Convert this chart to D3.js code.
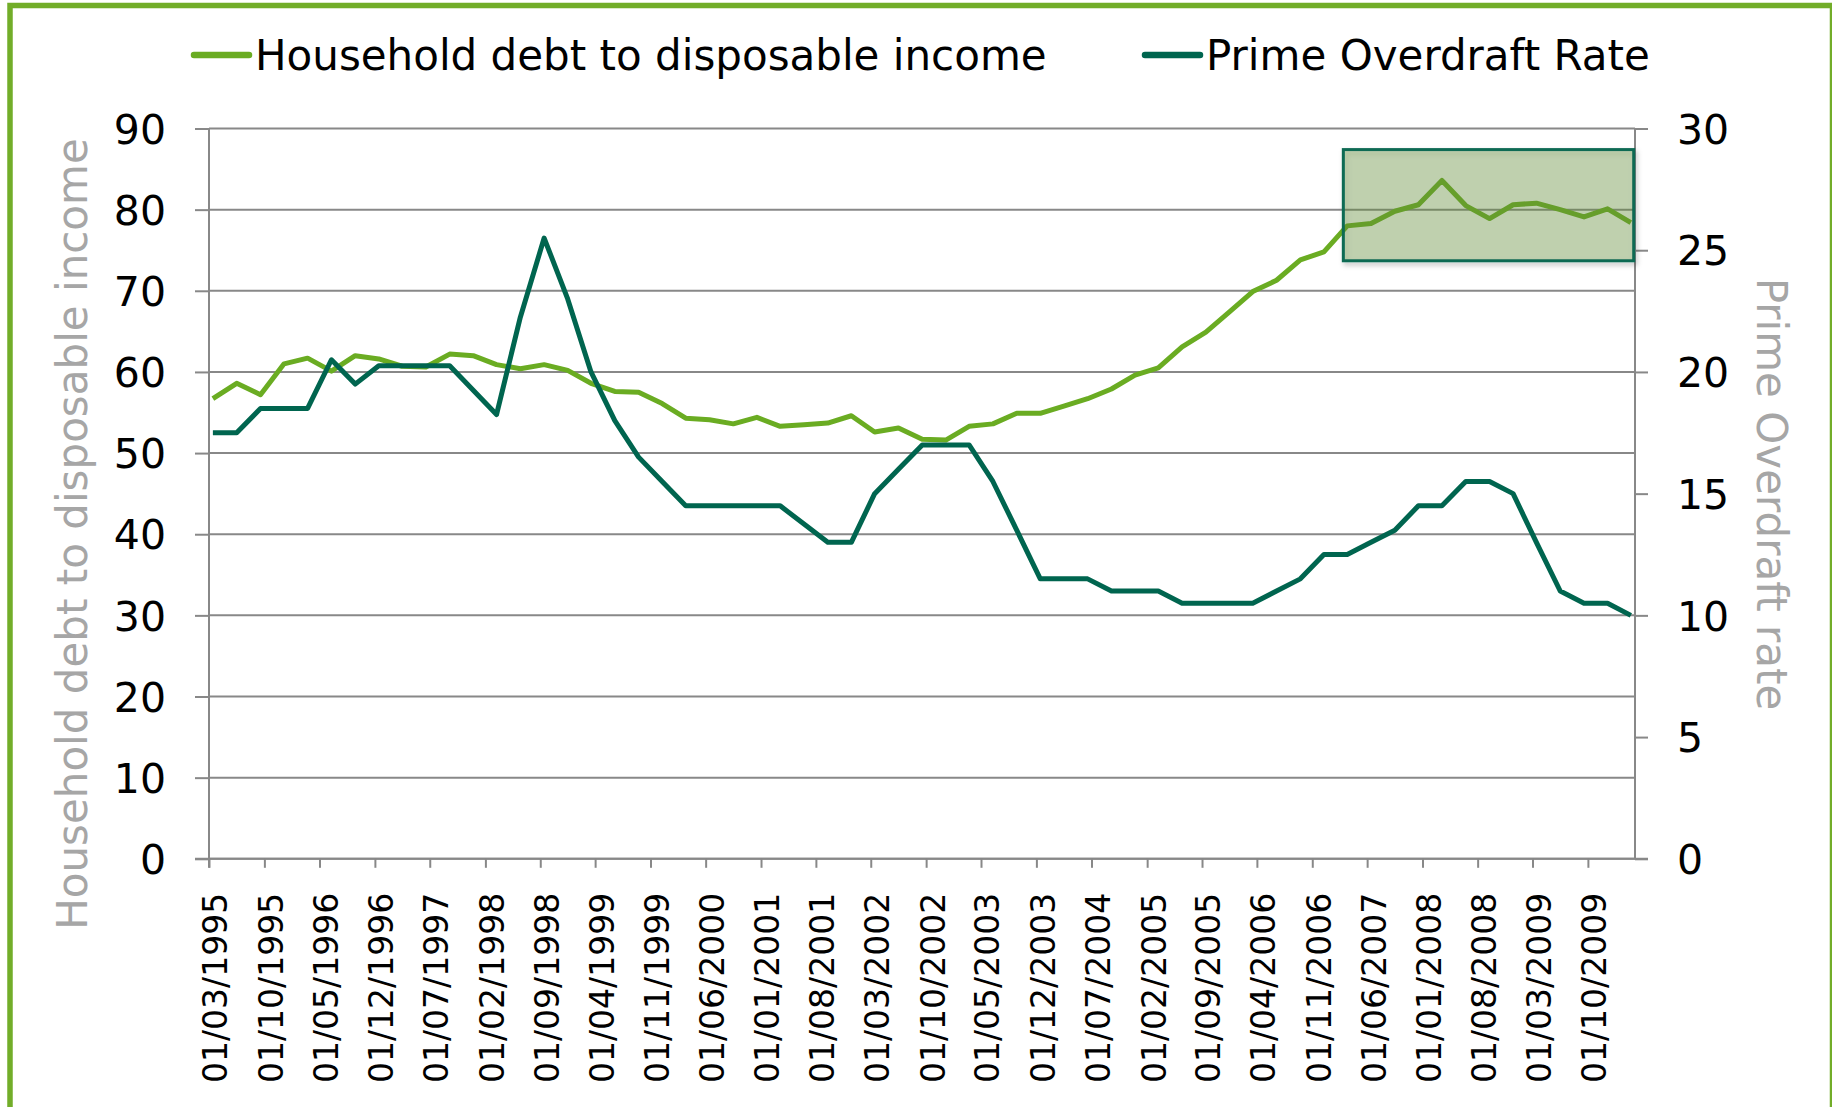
<!DOCTYPE html>
<html>
<head>
<meta charset="utf-8">
<script src="https://cdn.jsdelivr.net/npm/d3@7"></script>
<style>
  html, body { margin: 0; padding: 0; background: #ffffff; }
  svg { display: block; }
  text { font-family: "DejaVu Sans", Verdana, sans-serif; }
</style>
</head>
<body>
<svg id="chart" width="1832" height="1107"></svg>
<script>
// Quarterly observation dates (dd/mm/yyyy)
const quarters = [
  "01/03/1995","01/06/1995","01/09/1995","01/12/1995",
  "01/03/1996","01/06/1996","01/09/1996","01/12/1996",
  "01/03/1997","01/06/1997","01/09/1997","01/12/1997",
  "01/03/1998","01/06/1998","01/09/1998","01/12/1998",
  "01/03/1999","01/06/1999","01/09/1999","01/12/1999",
  "01/03/2000","01/06/2000","01/09/2000","01/12/2000",
  "01/03/2001","01/06/2001","01/09/2001","01/12/2001",
  "01/03/2002","01/06/2002","01/09/2002","01/12/2002",
  "01/03/2003","01/06/2003","01/09/2003","01/12/2003",
  "01/03/2004","01/06/2004","01/09/2004","01/12/2004",
  "01/03/2005","01/06/2005","01/09/2005","01/12/2005",
  "01/03/2006","01/06/2006","01/09/2006","01/12/2006",
  "01/03/2007","01/06/2007","01/09/2007","01/12/2007",
  "01/03/2008","01/06/2008","01/09/2008","01/12/2008",
  "01/03/2009","01/06/2009","01/09/2009","01/12/2009",
  "01/03/2010"
];

// Household debt to disposable income (%), left axis
const householdDebt = [
  56.7, 58.6, 57.2, 61.0, 61.7, 60.1, 62.0, 61.6, 60.7, 60.6,
  62.2, 62.0, 60.9, 60.4, 60.9, 60.2, 58.6, 57.6, 57.5, 56.1,
  54.3, 54.1, 53.6, 54.4, 53.3, 53.5, 53.7, 54.6, 52.6, 53.1,
  51.7, 51.6, 53.3, 53.6, 54.9, 54.9, 55.8, 56.7, 57.9, 59.6,
  60.5, 63.1, 64.9, 67.4, 69.9, 71.3, 73.8, 74.8, 78.0, 78.3,
  79.8, 80.6, 83.6, 80.5, 78.9, 80.6, 80.8, 80.0, 79.1, 80.1,
  78.4
];

// Prime overdraft rate (%), right axis
const primeRate = [
  17.5, 17.5, 18.5, 18.5, 18.5, 20.5, 19.5, 20.25, 20.25, 20.25,
  20.25, 19.25, 18.25, 22.25, 25.5, 23.0, 20.0, 18.0, 16.5, 15.5,
  14.5, 14.5, 14.5, 14.5, 14.5, 13.75, 13.0, 13.0, 15.0, 16.0,
  17.0, 17.0, 17.0, 15.5, 13.5, 11.5, 11.5, 11.5, 11.0, 11.0,
  11.0, 10.5, 10.5, 10.5, 10.5, 11.0, 11.5, 12.5, 12.5, 13.0,
  13.5, 14.5, 14.5, 15.5, 15.5, 15.0, 13.0, 11.0, 10.5, 10.5,
  10.0
];

// Axis tick labels
const dateTicks = [
  "01/03/1995","01/10/1995","01/05/1996","01/12/1996","01/07/1997",
  "01/02/1998","01/09/1998","01/04/1999","01/11/1999","01/06/2000",
  "01/01/2001","01/08/2001","01/03/2002","01/10/2002","01/05/2003",
  "01/12/2003","01/07/2004","01/02/2005","01/09/2005","01/04/2006",
  "01/11/2006","01/06/2007","01/01/2008","01/08/2008","01/03/2009",
  "01/10/2009"
];
const leftTicks = [0, 10, 20, 30, 40, 50, 60, 70, 80, 90];
const rightTicks = [0, 5, 10, 15, 20, 25, 30];

// Series names and axis titles
const seriesNames = ["Household debt to disposable income", "Prime Overdraft Rate"];
const leftTitle = "Household debt to disposable income";
const rightTitle = "Prime Overdraft rate";

// Highlighted period (dates and left-axis values)
const highlightDates = ["01/03/2007", "27/03/2010"];
const highlightRange = [73.7, 87.4];

// ---------------------------------------------------------------
const parse = d3.timeParse("%d/%m/%Y");
const fmt = d3.timeFormat("%d/%m/%Y");

const COLORS = { debt: "#6aac22", prime: "#00654f", grid: "#888888", frame: "#72ad29", title: "#a6a6a6" };
const plot = { left: 209, right: 1635, top: 128.5, bottom: 858.8 };

const svg = d3.select("#chart");

const x = d3.scaleTime()
  .domain([parse("01/03/1995"), parse("01/04/2010")])
  .range([plot.left, plot.right]);
const yL = d3.scaleLinear().domain([0, 90]).range([plot.bottom, plot.top]);
const yR = d3.scaleLinear().domain([0, 30]).range([plot.bottom, plot.top]);

// points sit in the middle of their month slot
const xPoint = s => x(d3.timeDay.offset(parse(s), 15));

// outer frame
svg.append("rect")
  .attr("x", 10).attr("y", 5.5)
  .attr("width", 1822.5).attr("height", 1200)
  .attr("fill", "none")
  .attr("stroke", COLORS.frame)
  .attr("stroke-width", 5.5);

// horizontal gridlines
svg.append("g")
  .selectAll("line")
  .data(leftTicks)
  .join("line")
  .attr("x1", plot.left).attr("x2", plot.right)
  .attr("y1", d => yL(d)).attr("y2", d => yL(d))
  .attr("stroke", COLORS.grid)
  .attr("stroke-width", 2);

// left axis
const gL = svg.append("g")
  .attr("transform", `translate(${plot.left},0)`)
  .call(d3.axisLeft(yL).tickValues(leftTicks).tickSize(14).tickPadding(29));
// right axis
const gR = svg.append("g")
  .attr("transform", `translate(${plot.right},0)`)
  .call(d3.axisRight(yR).tickValues(rightTicks).tickSize(13).tickPadding(29));
// bottom axis
const gX = svg.append("g")
  .attr("transform", `translate(0,${plot.bottom})`)
  .call(d3.axisBottom(x).tickValues(dateTicks.map(parse)).tickFormat(fmt).tickSize(9));

[gL, gR, gX].forEach(g => {
  g.select(".domain").attr("stroke", COLORS.grid).attr("stroke-width", 2);
  g.selectAll(".tick line").attr("stroke", COLORS.grid).attr("stroke-width", 2);
});
gL.select(".domain").attr("d", `M0,${plot.top}V${plot.bottom + 9}`);
gR.select(".domain").attr("d", `M0,${plot.top}V${plot.bottom}`);
gX.select(".domain").attr("d", `M${plot.left - 14},0H${plot.right + 13}`);

[gL, gR].forEach(g => {
  g.selectAll(".tick text")
    .attr("fill", "#000")
    .style("font-size", "41px")
    .attr("dy", "0.36em");
});
gL.selectAll(".tick text").attr("x", -43);
gR.selectAll(".tick text").attr("x", 42).attr("text-anchor", "start");

gX.selectAll(".tick text")
  .attr("fill", "#000")
  .style("font-size", "33px")
  .attr("text-anchor", "end")
  .attr("dy", "0.36em")
  .attr("y", 0)
  .attr("transform", "translate(6,34) rotate(-90)");

// axis titles
svg.append("text")
  .attr("transform", "translate(87,534) rotate(-90)")
  .attr("text-anchor", "middle")
  .attr("fill", COLORS.title)
  .style("font-size", "42px")
  .text(leftTitle);
svg.append("text")
  .attr("transform", "translate(1757,494) rotate(90)")
  .attr("text-anchor", "middle")
  .attr("fill", COLORS.title)
  .style("font-size", "42px")
  .text(rightTitle);

// series lines
const debtLine = d3.line().x((d, i) => xPoint(quarters[i])).y(d => yL(d));
const primeLine = d3.line().x((d, i) => xPoint(quarters[i])).y(d => yR(d));

svg.append("path")
  .datum(householdDebt)
  .attr("d", debtLine)
  .attr("fill", "none")
  .attr("stroke", COLORS.debt)
  .attr("stroke-width", 5)
  .attr("stroke-linejoin", "round");
svg.append("path")
  .datum(primeRate)
  .attr("d", primeLine)
  .attr("fill", "none")
  .attr("stroke", COLORS.prime)
  .attr("stroke-width", 5)
  .attr("stroke-linejoin", "round");

// highlight box with a soft shadow
const defs = svg.append("defs");
const f = defs.append("filter").attr("id", "shadow")
  .attr("x", "-5%").attr("y", "-10%").attr("width", "115%").attr("height", "130%");
f.append("feDropShadow")
  .attr("dx", 2).attr("dy", 3).attr("stdDeviation", 2.5)
  .attr("flood-color", "#000").attr("flood-opacity", 0.25);

const hx0 = x(parse(highlightDates[0])), hx1 = x(parse(highlightDates[1]));
const hy0 = yL(highlightRange[1]), hy1 = yL(highlightRange[0]);
svg.append("rect")
  .attr("x", hx0).attr("y", hy0)
  .attr("width", hx1 - hx0).attr("height", hy1 - hy0)
  .attr("fill", "rgba(104,146,59,0.35)")
  .attr("stroke", "#0d6a53")
  .attr("stroke-width", 3)
  .attr("filter", "url(#shadow)");

// legend
const legend = svg.append("g");
const legendItems = [
  { name: seriesNames[0], color: COLORS.debt, x: 194 },
  { name: seriesNames[1], color: COLORS.prime, x: 1145 }
];
legendItems.forEach(it => {
  legend.append("line")
    .attr("x1", it.x).attr("x2", it.x + 55)
    .attr("y1", 55).attr("y2", 55)
    .attr("stroke", it.color)
    .attr("stroke-width", 6.5)
    .attr("stroke-linecap", "round");
  legend.append("text")
    .attr("x", it.x + 61).attr("y", 70)
    .attr("fill", "#000")
    .style("font-size", "42px")
    .text(it.name);
});
</script>
</body>
</html>
